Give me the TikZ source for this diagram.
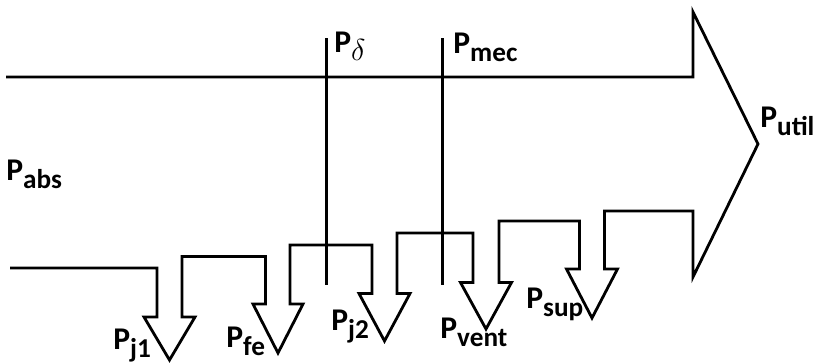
\documentclass[tikz,border=0pt]{standalone}
\usepackage{fontspec}
\setmainfont{Carlito}
\usepackage{tikz}
\usetikzlibrary{positioning}

\newcommand{\pwr}[1]{P\raisebox{-4.6pt}{\fontsize{15.5}{16}\selectfont #1}}

\begin{document}
\begin{tikzpicture}[x=0.02cm, y=-0.02cm,
		outline/.style={line width=1.6pt, line join=miter},
		tap/.style={line width=1.3pt},
		lbl/.style={anchor=base west, inner sep=0pt, font=\bfseries\fontsize{18}{21}\selectfont}]
	\useasboundingbox (0,0) rectangle (815,363);

	\draw[outline] (6,77) -- (693,77) -- (693,12) -- (758,144) -- (693,277) -- (693,211)
		-- (604.5,211) -- (604.5,269) -- (617.5,269) -- (592,318) -- (566.5,269) -- (579.5,269)
		-- (579.5,221) -- (499,221) -- (499,282.5) -- (511.5,282.5) -- (486,329) -- (460.5,282.5) -- (473,282.5)
		-- (473,233) -- (397,233) -- (397,293.5) -- (410,293.5) -- (384.5,341) -- (359,293.5) -- (372,293.5)
		-- (372,245) -- (290,245) -- (290,304) -- (303,304) -- (278,353) -- (253,304) -- (265.5,304)
		-- (265.5,256.5) -- (182,256.5) -- (182,317) -- (195,317) -- (169.5,360) -- (144,317) -- (157,317)
		-- (157,268) -- (10,268);

	\draw[tap] (326.5,38) -- (326.5,285);
	\draw[tap] (442.5,38) -- (442.5,285);

	\node[lbl] (abs) at (6,180) {\pwr{abs}};
	\node[lbl] (delta) at (334,52) {P\raisebox{-4.6pt}{\mdseries\fontsize{17}{17}\selectfont$\delta$}};
	\node[lbl] (mec) at (453,53) {\pwr{mec}};
	\node[lbl] (util) at (760,127) {\pwr{util}};
	\node[lbl] (j1) at (113,349) {\pwr{j1}};
	\node[lbl] (fe) at (226,347) {\pwr{fe}};
	\node[lbl] (j2) at (331,330) {\pwr{j2}};
	\node[lbl] (vent) at (440,338) {\pwr{vent}};
	\node[lbl] (sup) at (526,308) {\pwr{sup}};
\end{tikzpicture}
\end{document}
